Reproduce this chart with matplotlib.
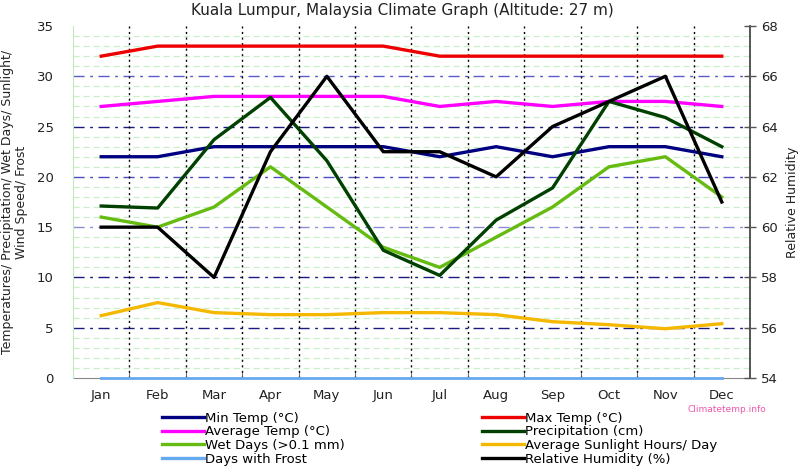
import matplotlib
matplotlib.use("Agg")
import matplotlib.pyplot as plt
from matplotlib.lines import Line2D

months = ["Jan", "Feb", "Mar", "Apr", "May", "Jun", "Jul", "Aug", "Sep", "Oct", "Nov", "Dec"]
min_temp = [22, 22, 23, 23, 23, 23, 22, 23, 22, 23, 23, 22]
max_temp = [32, 33, 33, 33, 33, 33, 32, 32, 32, 32, 32, 32]
avg_temp = [27, 27.5, 28, 28, 28, 28, 27, 27.5, 27, 27.5, 27.5, 27]
precip = [17.1, 16.9, 23.7, 27.9, 21.6, 12.7, 10.2, 15.7, 18.9, 27.5, 25.9, 23.0]
wet_days = [16, 15, 17, 21, 17, 13, 11, 14, 17, 21, 22, 18]
sunlight = [6.2, 7.5, 6.5, 6.3, 6.3, 6.5, 6.5, 6.3, 5.6, 5.3, 4.9, 5.4]
frost = [0, 0, 0, 0, 0, 0, 0, 0, 0, 0, 0, 0]
humidity = [60, 60, 58, 63, 66, 63, 63, 62, 64, 65, 66, 61]

left_ticks = [0, 5, 10, 15, 20, 25, 30, 35]
right_ticks = [54, 56, 58, 60, 62, 64, 66, 68]

plt.rcParams['font.family'] = ['DejaVu Sans']
fig = plt.figure(figsize=(8.04, 4.68), dpi=100)
ax = fig.add_axes([73/804, 1-378/468, (750-73)/804, (378-26)/468])
x = list(range(12))

ax.set_xlim(-0.5, 11.5)
ax.set_ylim(0, 35)

# grid
for v in range(1, 35):
    if v % 5:
        ax.axhline(v, color='#c8f0c8', lw=0.9, ls=(0, (5, 3)), zorder=1)
major_cols = {5: '#1a1a80', 10: '#1a1a80', 15: '#8a8ad8', 20: '#4a4ac0', 25: '#1a1a80', 30: '#5a5ac8'}
for v, c in major_cols.items():
    ax.axhline(v, color=c, lw=1.0, ls=(0, (8, 4, 2, 4)), zorder=1)
for b in range(11):
    ax.axvline(b + 0.5, color='black', lw=1.0, ls=(0, (1.5, 2.5)), zorder=1)

lw = 2.4
ax.plot(x, frost, color='#66aaee', lw=2.0, zorder=6, clip_on=False, label='Days with Frost')
ax.plot(x, min_temp, color='#000080', lw=lw, zorder=3, label='Min Temp (°C)')
ax.plot(x, max_temp, color='#ee0000', lw=lw, zorder=3, label='Max Temp (°C)')
ax.plot(x, avg_temp, color='#ff00ff', lw=lw, zorder=3, label='Average Temp (°C)')
ax.plot(x, precip, color='#004000', lw=lw, zorder=4, label='Precipitation (cm)')
ax.plot(x, wet_days, color='#66bb11', lw=lw, zorder=3, label='Wet Days (>0.1 mm)')
ax.plot(x, sunlight, color='#f5b800', lw=lw, zorder=3, label='Average Sunlight Hours/ Day')

ax2 = ax.twinx()
ax2.set_ylim(54, 68)
ax2.plot(x, humidity, color='black', lw=lw, zorder=5)
ax2.set_yticks(right_ticks)
ax2.tick_params(axis='y', direction='inout', length=8, width=1, colors='#555555',
                labelcolor='#222222', labelsize=9.5, pad=4)

ax.set_xticks(x)
ax.set_xticklabels(months, fontsize=9.5, color='#222222')
ax.set_xticks([b + 0.5 for b in range(-1, 11)], minor=True)
ax.tick_params(axis='x', which='major', length=0, pad=8)
ax.tick_params(axis='x', which='minor', length=4, direction='in', color='#555555')
ax.set_yticks(left_ticks)
ax.tick_params(axis='y', length=0, labelsize=9.5, labelcolor='#222222', pad=14)

for a in (ax, ax2):
    a.spines['top'].set_visible(False)
    a.spines['left'].set_color('#bbeebb')
    a.spines['bottom'].set_color('#888888')
    a.spines['right'].set_color('#555555')
    a.spines['right'].set_linewidth(1.2)
ax2.spines['bottom'].set_visible(False)
ax2.spines['left'].set_visible(False)
ax.spines['bottom'].set_zorder(2)

ax.set_ylabel('Temperatures/ Precipitation/ Wet Days/ Sunlight/\nWind Speed/ Frost',
              fontsize=9, color='#222222', labelpad=6, linespacing=1.1)
ax2.set_ylabel('Relative Humidity', fontsize=9, color='#222222', labelpad=6)

fig.text(0.5, 1-10/468, 'Kuala Lumpur, Malaysia Climate Graph (Altitude: 27 m)',
         ha='center', va='center', fontsize=11, color='#222222')

def h(c, lab):
    return Line2D([], [], color=c, lw=2.4, label=lab)

col1 = [h('#000080', 'Min Temp (°C)'), h('#ff00ff', 'Average Temp (°C)'),
        h('#66bb11', 'Wet Days (>0.1 mm)'), h('#66aaee', 'Days with Frost')]
col2 = [h('#ee0000', 'Max Temp (°C)'), h('#004000', 'Precipitation (cm)'),
        h('#f5b800', 'Average Sunlight Hours/ Day'), h('black', 'Relative Humidity (%)')]
kw = dict(frameon=False, fontsize=9.5, handlelength=3.2, handletextpad=0.1,
          labelspacing=0.05, borderpad=0, loc='upper left')
fig.legend(handles=col1, bbox_to_anchor=(155/804, 1-405/468), **kw)
fig.legend(handles=col2, bbox_to_anchor=(475/804, 1-405/468), **kw)

fig.text(688/804, 1-409/468, 'Climatetemp.info', fontsize=6.5, color='#ee55aa',
         ha='left', va='center')

fig.savefig('out.png', dpi=100)
